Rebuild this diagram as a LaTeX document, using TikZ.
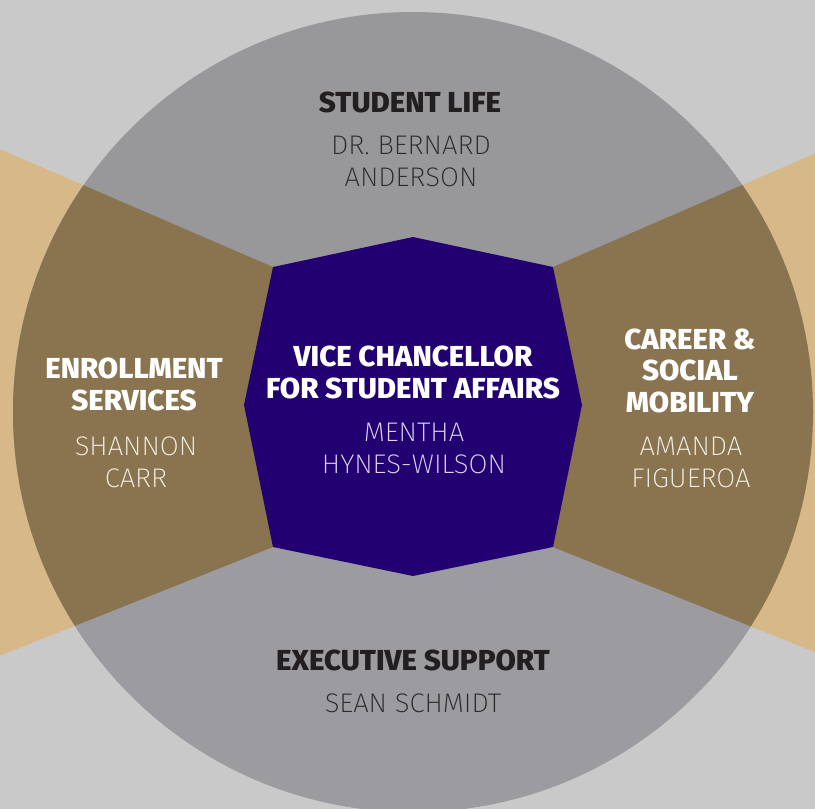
\documentclass[tikz,border=0pt]{standalone}
\usepackage{fontspec}
\newfontfamily\hdfont[FakeStretch=1.02]{Fira Sans ExtraBold}
\newfontfamily\nmfont[FakeStretch=1.02]{Fira Sans ExtraLight}
\definecolor{bglight}{HTML}{CAC9CA}
\definecolor{topgray}{HTML}{98989A}
\definecolor{botgray}{HTML}{9C9BA0}
\definecolor{brown}{HTML}{89744F}
\definecolor{tan}{HTML}{D7B889}
\definecolor{purple}{HTML}{220071}
\definecolor{darktext}{HTML}{231F20}
\definecolor{namedark}{HTML}{2A292C}
\definecolor{namelight}{HTML}{F4F0E8}
\definecolor{namelav}{HTML}{E0D8F0}
\tikzset{
  headdark/.style={anchor=base, align=center, text=darktext, font=\hdfont\fontsize{29}{31.5}\selectfont},
  headlight/.style={anchor=base, align=center, text=white, font=\hdfont\fontsize{29}{31.5}\selectfont},
  namedk/.style={anchor=base, align=center, text=namedark, font=\nmfont\fontsize{27}{31.5}\selectfont},
  namelt/.style={anchor=base, align=center, text=namelight, font=\nmfont\fontsize{27}{31.5}\selectfont},
  namelv/.style={anchor=base, align=center, text=namelav, font=\nmfont\fontsize{27}{31.5}\selectfont},
}
\begin{document}
\begin{tikzpicture}[x=1bp,y=-1bp]
\useasboundingbox (0,0) rectangle (815,809);
% background
\fill[bglight] (0,0) rectangle (815,809);
% octagon corners
\coordinate (oT) at (413,237);
\coordinate (oTR) at (553,267);
\coordinate (oR) at (582,405);
\coordinate (oBR) at (553,547);
\coordinate (oB) at (413,576);
\coordinate (oBL) at (273,547);
\coordinate (oL) at (244,405);
\coordinate (oTL) at (273,267);
% far points of sector lines
\coordinate (fTL) at (-12,144);
\coordinate (fBL) at (-26,666);
\coordinate (fTR) at (837,144);
\coordinate (fBR) at (852,667);
% tan wedges outside circle
\fill[tan] (oTL) -- (fTL) -- (-30,700) -- (fBL) -- (oBL) -- cycle;
\fill[tan] (oTR) -- (fTR) -- (860,700) -- (fBR) -- (oBR) -- cycle;
% circle sectors
\begin{scope}
  \clip (413,412) circle (400);
  \fill[topgray] (413,412) circle (400);
  \fill[botgray] (oBL) -- (fBL) -- (-30,900) -- (860,900) -- (fBR) -- (oBR) -- cycle;
  \fill[brown] (oTL) -- (fTL) -- (-30,700) -- (fBL) -- (oBL) -- cycle;
  \fill[brown] (oTR) -- (fTR) -- (860,700) -- (fBR) -- (oBR) -- cycle;
\end{scope}
% octagon
\fill[purple] (oT) -- (oTR) -- (oR) -- (oBR) -- (oB) -- (oBL) -- (oL) -- (oTL) -- cycle;
% texts (anchor = baseline of the last line)
\node[headdark] (slh) at (410,112) {STUDENT LIFE};
\node[namedk] (sln) at (411,186) {DR. BERNARD\\ANDERSON};
\node[headlight] (vch) at (413,398) {VICE CHANCELLOR\\FOR STUDENT AFFAIRS};
\node[namelv] (vcn) at (414,473) {MENTHA\\HYNES-WILSON};
\node[headlight] (enh) at (134,410) {ENROLLMENT\\SERVICES};
\node[namelt] (enn) at (136,487) {SHANNON\\CARR};
\node[headlight] (csh) at (690,412) {CAREER \&\\SOCIAL\\MOBILITY};
\node[namelt] (csn) at (691,487) {AMANDA\\FIGUEROA};
\node[headdark] (esh) at (413,670) {EXECUTIVE SUPPORT};
\node[namedk] (esn) at (413,712) {SEAN SCHMIDT};
\end{tikzpicture}
\end{document}
